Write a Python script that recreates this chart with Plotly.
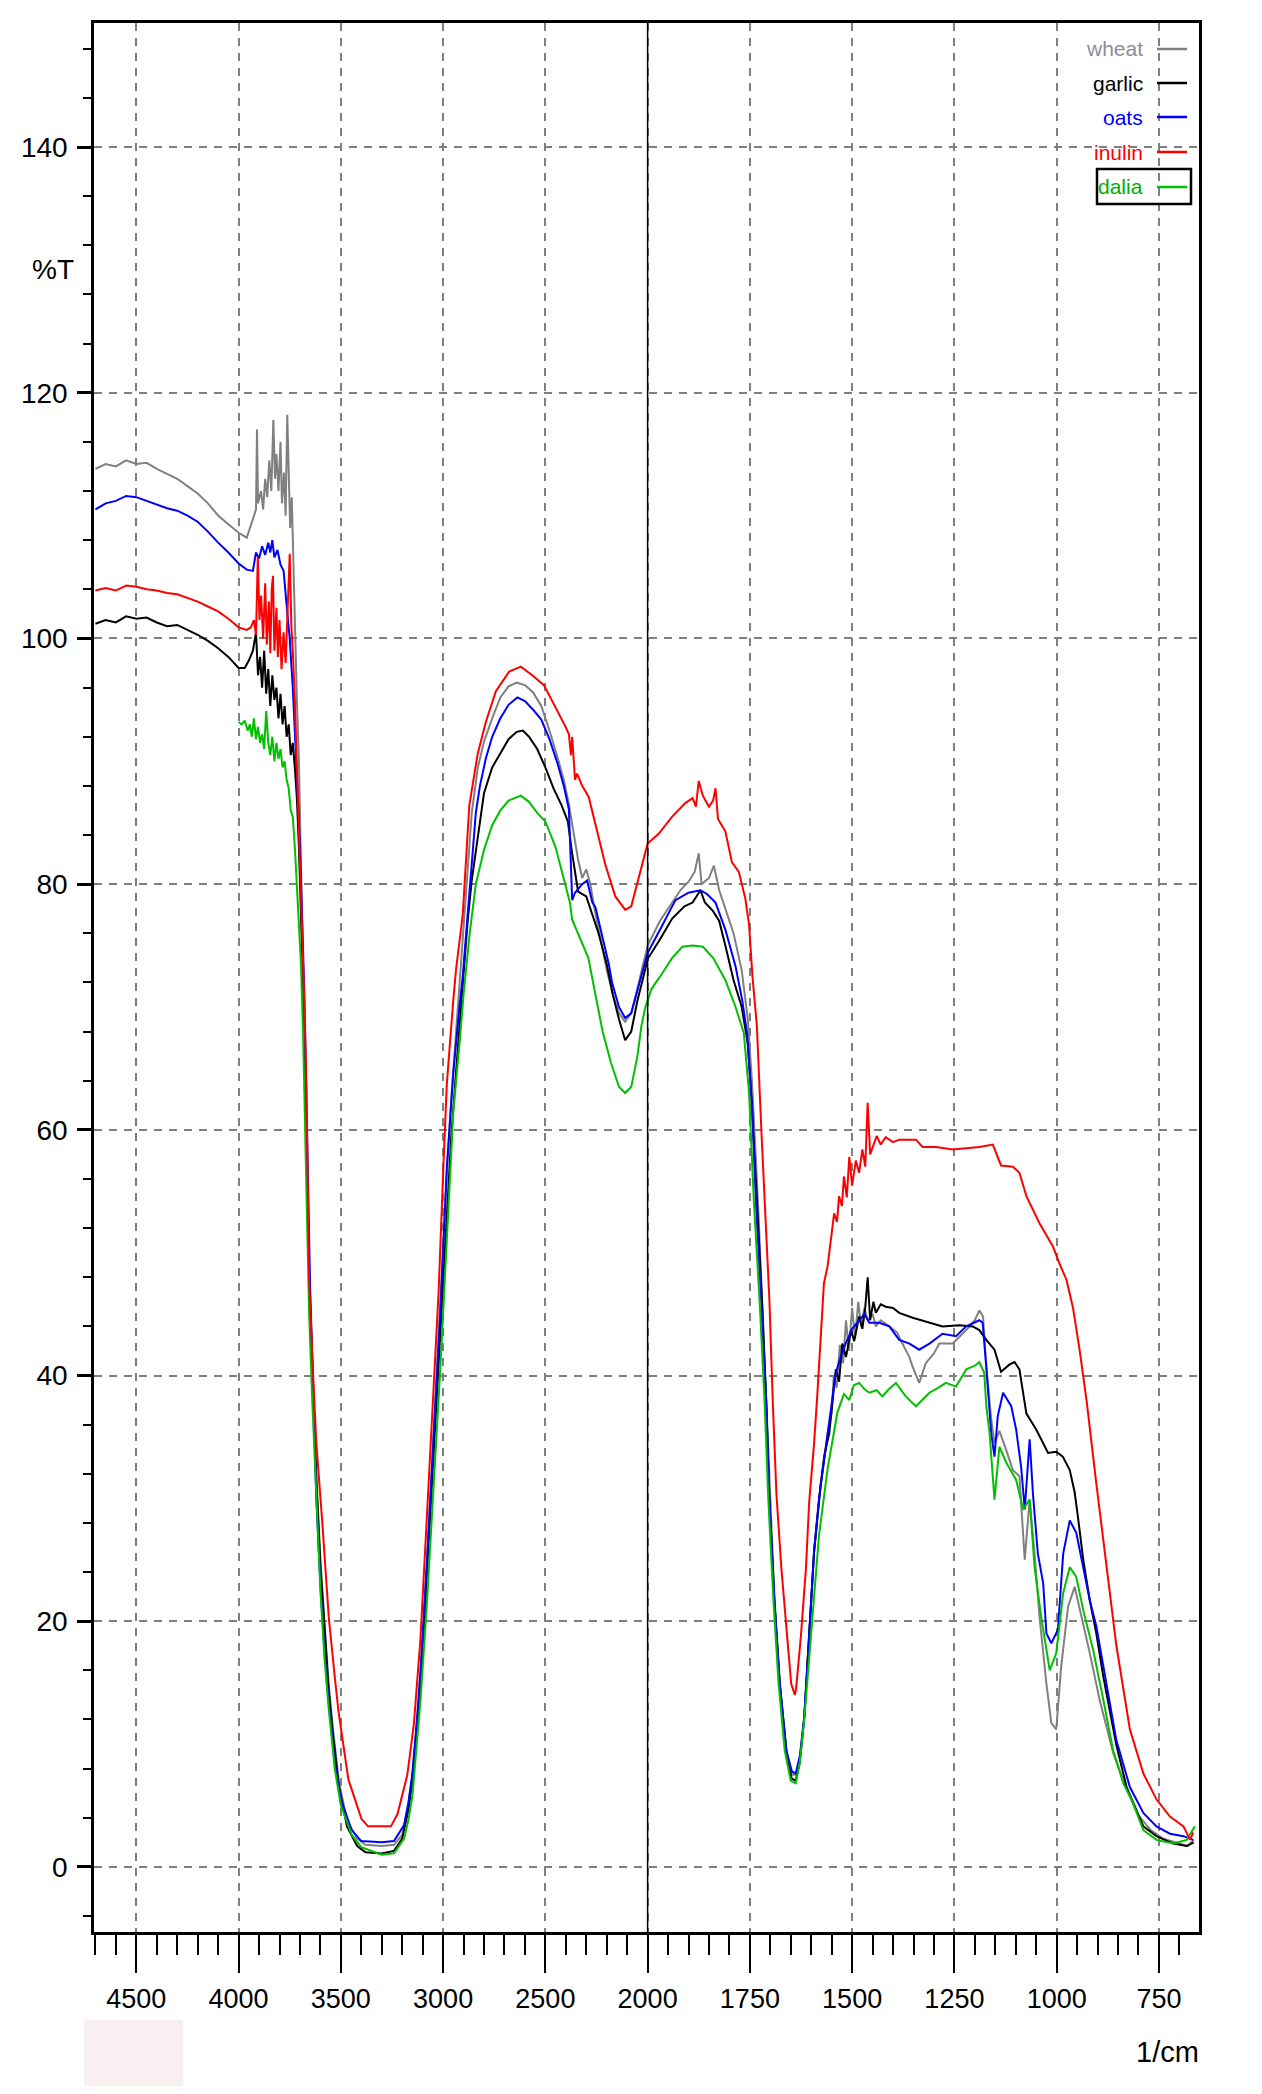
import numpy as np
import plotly.graph_objects as go

# ---------------- data (wavenumber 1/cm, %T) ----------------
wheat_wn = [4700,4650,4600,4550,4500,4450,4400,4350,4300,4250,4200,4150,4100,4050,4000,3960,3935,3915,3910,3905,3890,3880,3870,3860,3850,3840,3830,3822,3815,3805,3795,3788,3778,3770,3762,3755,3748,3740,3732,3725,3715,3705,3695,3685,3675,3665,3655,3640,3620,3600,3580,3560,3540,3510,3470,3420,3380,3300,3240,3200,3170,3150,3120,3100,3080,3060,3040,3020,3000,2980,2960,2940,2920,2900,2880,2860,2830,2800,2760,2720,2680,2640,2600,2560,2520,2480,2440,2410,2385,2360,2340,2320,2300,2280,2260,2230,2200,2170,2140,2110,2080,2050,2020,2000,1970,1940,1920,1900,1885,1875,1868,1850,1838,1825,1810,1790,1770,1755,1745,1730,1720,1710,1700,1690,1677,1660,1645,1635,1625,1617,1605,1593,1577,1560,1550,1545,1538,1530,1522,1515,1508,1500,1493,1485,1478,1470,1462,1450,1442,1430,1409,1390,1377,1360,1352,1336,1320,1300,1287,1254,1221,1200,1189,1180,1172,1160,1152,1140,1123,1107,1091,1078,1066,1054,1042,1025,1013,1001,989,972,956,939,919,895,862,829,800,770,740,700,680,665]
wheat_T = [113.8,114.2,114.0,114.5,114.2,114.3,113.8,113.4,113.0,112.4,111.8,111.0,110.0,109.3,108.6,108.2,109.5,110.5,117.0,111.0,112.0,110.5,113.0,111.5,114.5,112.0,117.8,113.0,115.0,112.0,116.0,111.0,113.5,110.0,118.2,112.0,109.0,111.5,106.0,103.0,95,90,82,73,65,57,48.5,41,32,25,19.5,15,11.5,7.0,3.8,2.3,1.8,1.7,1.8,2.6,5.0,7.5,13.5,18.5,24.5,31,38,44,51,57,62.5,67,71.5,76,80.5,85.8,89.5,91.6,93.5,95.2,96.1,96.4,96.2,95.6,94.5,92.5,90.3,88.5,86.5,84,82,80.5,81.2,80,78,75.5,73,71,69.5,68.8,69.5,71.5,73.5,75.0,77,78.5,79.5,80.2,81,82.5,80,80.5,81.5,79.5,78,76,73,69,64,54,46,38,30,22,15,9.3,7.5,7.5,9.5,12.2,18.9,25.7,31.1,35.3,37,40,39,42.5,41,44.5,42,45.5,43,46,44,45.5,44.5,45,44,44.5,44.0,43.5,42.6,41.5,40.7,39.4,41.0,41.8,42.6,42.6,43.7,44.5,45.3,44.8,40.7,36.5,34.5,35.5,33.9,32.3,31.8,25.0,29.9,25.5,20.4,14.9,11.7,11.2,16.3,21.2,22.8,20.4,17.4,13.6,9.3,6.3,4.2,3.0,2.3,1.9,1.7,2.2]

garlic_wn = [4700,4650,4600,4550,4500,4450,4400,4350,4300,4250,4200,4150,4100,4050,4000,3970,3950,3930,3915,3905,3895,3885,3875,3865,3855,3845,3835,3825,3815,3805,3795,3785,3775,3765,3755,3745,3735,3725,3715,3705,3695,3685,3675,3665,3655,3640,3620,3600,3580,3560,3540,3510,3470,3420,3380,3300,3240,3200,3170,3150,3120,3100,3080,3060,3040,3020,3000,2980,2960,2940,2920,2900,2880,2860,2830,2800,2760,2720,2680,2640,2610,2580,2540,2500,2460,2420,2390,2370,2340,2300,2270,2240,2200,2170,2140,2110,2080,2050,2020,2000,1970,1940,1910,1890,1871,1860,1840,1825,1810,1790,1770,1755,1745,1730,1720,1710,1702,1690,1677,1661,1648,1638,1628,1617,1605,1593,1577,1568,1556,1548,1540,1532,1524,1515,1503,1495,1483,1475,1468,1462,1456,1448,1442,1430,1418,1400,1385,1352,1320,1279,1238,1205,1189,1172,1152,1136,1115,1103,1091,1074,1050,1034,1021,1001,985,968,956,948,935,919,903,886,870,854,829,813,788,756,715,682,665]
garlic_T = [101.2,101.5,101.3,101.8,101.6,101.7,101.3,101.0,101.1,100.7,100.3,99.8,99.2,98.5,97.6,97.6,98.2,99.0,100.5,97.0,98.5,96.0,99.0,95.5,97.5,94.5,97.0,95.0,96.0,93.5,95.5,93.0,94.5,92.0,93.0,90.5,91.5,89.5,87,83,78,72,64.5,56.5,48,40.5,31.5,24.5,19,14.5,11,6.6,3.3,1.7,1.2,1.1,1.3,2.3,4.6,7.0,13,17.5,23.5,29.5,36,42,48.5,54,59.5,64,68.5,72.9,77,80.3,84,87.4,89.5,90.6,91.8,92.4,92.5,92.0,91.0,89.5,87.8,86.4,85.1,82.6,79.4,79.0,77.5,76.0,73.5,71.0,69,67.3,68,70.5,72.5,73.9,75.5,77.2,78.2,78.5,79.5,78.5,77.8,77,75,72.2,70.0,67,62,52,45.9,37.8,29.7,21.6,14.9,9.5,7.2,7.0,8.5,12.2,18.9,25.7,31.1,33.5,35.3,38,40.5,39.5,42.6,41.5,43.7,42.8,44.8,43.8,45.5,48.0,44.5,46,45.1,45.8,45.6,45.5,45.1,44.7,44.4,44.0,44.1,44.0,43.7,42.9,42.1,40.3,40.9,41.1,40.5,36.9,35.6,34.5,33.7,33.8,33.4,32.3,30.5,28.5,25.0,21.7,19.0,15.5,12.8,9.9,6.5,5.2,3.3,2.5,1.9,1.7,2.0]

oats_wn = [4700,4650,4600,4550,4500,4450,4400,4350,4300,4250,4200,4150,4100,4050,4000,3960,3930,3915,3900,3885,3870,3855,3845,3835,3825,3810,3795,3780,3765,3750,3735,3720,3710,3700,3690,3680,3670,3660,3650,3635,3620,3600,3580,3560,3530,3500,3447,3400,3300,3240,3191,3170,3151,3130,3111,3079,3046,3014,2982,2950,2920,2904,2880,2860,2840,2820,2790,2760,2720,2680,2637,2600,2560,2520,2480,2440,2410,2385,2369,2355,2336,2320,2296,2270,2255,2220,2190,2174,2140,2110,2080,2044,2020,2000,1965,1932,1900,1871,1855,1834,1810,1785,1769,1757,1745,1735,1722,1710,1702,1690,1677,1661,1648,1638,1628,1617,1605,1593,1581,1565,1552,1540,1528,1516,1500,1483,1470,1458,1434,1409,1385,1360,1336,1311,1279,1246,1221,1189,1181,1172,1160,1152,1144,1131,1111,1099,1087,1078,1066,1058,1046,1033,1025,1013,997,984,968,952,935,919,903,878,854,821,788,756,723,690,666]
oats_T = [110.5,111.0,111.2,111.6,111.5,111.2,110.9,110.6,110.4,110.0,109.5,108.7,107.8,107.0,106.1,105.6,105.5,107.0,106.5,107.5,106.8,107.8,107.0,108.0,106.6,107.2,106.0,105.5,102.7,100,96,91,87,83,78,72,64,56,47,39,30,23,17.5,13.5,8.5,5.5,3.0,2.1,2.0,2.1,3.4,5.2,7.5,11.5,15.8,24.9,35.0,45.0,56.9,64.7,70.0,72.5,77.5,82,85.8,88,90.3,92.0,93.5,94.6,95.2,94.9,94.2,93.4,91.8,89.8,88,86.1,78.7,79.3,79.7,80.0,80.3,78.5,78.1,75.5,73.5,72.0,70,69.1,69.5,71.7,73.2,74.4,76.6,78.7,79.3,79.5,79.2,78.5,76.3,73.3,70.6,67.9,62,54,45.9,37.8,29.7,21.6,14.9,9.5,7.8,7.6,9,12.2,18.9,25.7,30.0,33.9,37.5,40.2,41.5,42.6,43.8,44.5,45.0,44.3,44.3,44.0,42.9,42.6,42.1,42.6,43.4,43.2,44.0,44.5,44.3,40.7,35.3,33.4,36.7,38.6,37.5,35.6,32.6,29.1,34.8,30.4,25.5,23.1,19.0,18.2,19.3,25.5,28.2,27.2,24.4,21.7,19.6,14.9,10.3,6.5,4.4,3.3,2.7,2.5,2.2]

inulin_wn = [4700,4650,4600,4550,4500,4450,4400,4350,4300,4250,4200,4150,4100,4050,4000,3960,3940,3925,3915,3906,3898,3890,3880,3870,3862,3852,3845,3838,3832,3825,3815,3808,3800,3790,3780,3770,3760,3750,3742,3735,3725,3715,3705,3695,3685,3679,3670,3655,3639,3620,3591,3559,3530,3511,3463,3399,3367,3300,3255,3223,3175,3143,3111,3079,3054,3022,2998,2982,2950,2937,2904,2872,2831,2791,2742,2677,2620,2564,2507,2450,2401,2385,2375,2369,2355,2345,2320,2288,2255,2207,2158,2109,2080,2061,2030,2012,2000,1973,1940,1908,1890,1882,1875,1865,1850,1840,1834,1828,1810,1794,1777,1761,1752,1744,1733,1722,1710,1702,1694,1685,1673,1661,1649,1640,1637,1625,1613,1605,1593,1585,1575,1569,1560,1552,1544,1537,1532,1525,1520,1513,1507,1500,1491,1483,1475,1468,1462,1456,1450,1440,1430,1418,1400,1385,1344,1328,1295,1254,1221,1189,1156,1136,1107,1091,1074,1042,1009,993,976,960,944,927,903,878,854,821,788,756,723,690,674,666]
inulin_T = [103.9,104.1,103.9,104.3,104.2,104.0,103.9,103.7,103.6,103.3,103.0,102.6,102.2,101.6,100.9,100.7,100.9,101.5,100.3,106.6,101.5,103.5,100.0,104.5,99.5,103.0,98.8,104.0,105.1,99.0,102.5,98.5,101.5,97.5,100.5,98.0,103.0,106.9,101.0,99.0,95.0,90.0,85,79,74.5,70.6,65,47.8,41.4,34.5,28.1,20.3,15.5,12.6,7.1,3.9,3.3,3.3,3.3,4.3,7.5,11.6,18.5,28.6,36.8,46.8,57.3,63.7,70.6,73,77.5,86.4,90.6,93.2,95.7,97.3,97.7,97.0,96.2,94.4,92.8,92.2,90.5,92.0,88.5,89.0,88.0,87.1,84.8,81.6,79.0,77.9,78.2,79.4,81.5,82.6,83.3,84.1,85.5,86.6,87.0,86.3,88.4,87.2,86.3,86.8,87.8,85.3,84.3,81.8,81.0,78.8,76.7,72.6,68.5,60,52,45.9,37.8,30.3,24.3,19.5,14.9,14.0,14.5,18.9,24.3,29.7,34.5,38.5,44,47.5,48.9,51.3,53.2,52.5,54.6,53.8,56.2,54.5,57.8,55.5,57.5,56.5,58.4,57.0,62.2,58.0,58.6,59.5,58.8,59.4,59.0,59.2,59.2,58.6,58.6,58.4,58.5,58.6,58.8,57.1,57.0,56.5,54.6,52.4,50.5,49.1,47.8,45.5,42.1,38.0,31.2,24.4,18.0,11.2,7.6,5.5,4.1,3.3,2.2,2.8]

dalia_wn = [4000,3985,3970,3955,3945,3935,3925,3915,3905,3895,3885,3875,3865,3855,3845,3835,3825,3815,3805,3795,3785,3775,3765,3755,3745,3735,3725,3715,3705,3695,3685,3675,3665,3655,3640,3620,3600,3580,3560,3530,3500,3447,3400,3300,3240,3191,3170,3150,3130,3111,3079,3046,3014,2982,2950,2920,2900,2870,2840,2800,2760,2720,2680,2620,2580,2540,2500,2450,2418,2380,2369,2340,2320,2290,2255,2220,2180,2140,2110,2080,2050,2030,2011,1990,1965,1940,1915,1890,1865,1840,1810,1785,1765,1752,1740,1726,1714,1705,1693,1680,1665,1650,1638,1628,1617,1605,1593,1581,1560,1545,1536,1520,1507,1496,1483,1470,1458,1440,1426,1410,1393,1380,1369,1344,1311,1290,1271,1246,1221,1200,1189,1177,1172,1164,1156,1152,1140,1123,1099,1082,1066,1054,1038,1017,1001,984,968,952,935,911,886,862,837,817,788,756,715,682,662]
dalia_T = [93.2,93.0,93.3,92.5,93.0,92.0,93.5,91.8,92.8,91.5,92.2,91.0,94.1,91.5,90.5,92.0,90.0,91.5,90.2,91.0,89.5,90.0,88.5,87.8,86,85.5,83,80,77.5,73.5,68,61,53,45,38,29.5,22.5,17,13,8,5,2.6,1.6,1.0,1.1,2.3,3.8,5.8,9.5,13.5,21.5,31.0,40.5,51,61.5,67,71,76,80.0,82.8,84.8,86.0,86.8,87.2,86.7,85.8,85.1,83,81.0,78.5,77.1,76,75.2,74,71.0,68,65.5,63.5,63.0,63.5,66,68.5,70.0,71.5,72.7,74.0,74.9,75.0,74.9,74.0,72.2,70.0,67.9,63,54,45.9,37.8,30,22,15,9.5,7,6.8,8.5,12,17,21.6,27.0,32.4,35.3,37.0,38.5,38.0,39.2,39.4,38.9,38.6,38.8,38.3,38.9,39.4,38.8,38.3,37.5,38.6,39.0,39.4,39.1,40.5,40.8,41.1,40.2,37.5,35.3,32.0,29.9,34.2,32.9,31.5,29.1,29.9,24.4,20.4,16.0,17.4,22.3,24.4,23.6,20.9,17.7,13.6,9.5,6.8,5.5,3.0,2.2,1.9,2.2,3.3]

series_names = ["wheat", "garlic", "oats", "inulin", "dalia"]
series_colors = ["#808080", "#000000", "#0000ff", "#ff0000", "#00c000"]
legend_text_colors = ["#8c8c9c", "#000000", "#0000ff", "#ff0000", "#00b000"]
series_wn = [wheat_wn, garlic_wn, oats_wn, inulin_wn, dalia_wn]
series_T = [wheat_T, garlic_T, oats_T, inulin_T, dalia_T]

x_tick_labels = [4500, 4000, 3500, 3000, 2500, 2000, 1750, 1500, 1250, 1000, 750]
y_tick_labels = [0, 20, 40, 60, 80, 100, 120, 140]
x_min, x_max = 652, 4707
y_min, y_max = -5.3, 150.1
split = 2000  # scale changes here (500 per division above, 250 per division below)


def axis_pos(wn):
    wn = np.asarray(wn, dtype=float)
    return np.where(wn > split, split + (wn - split) / 2.0, wn)


FONT = "Liberation Sans, Arial, sans-serif"

fig = go.Figure()
draw_order = [0, 1, 2, 4, 3]
for i in draw_order:
    fig.add_trace(go.Scatter(
        x=axis_pos(series_wn[i]), y=series_T[i], mode="lines",
        name=series_names[i], line=dict(color=series_colors[i], width=2),
        showlegend=False))

W, H = 1262, 2094
OFF = 8  # page body margin
# target plot area on screen: x 94..1199, y 23..1932
ml, mr, mt, mb = 94 - OFF, W + OFF - 1199, 23 - OFF, H + OFF - 1932

fig.update_layout(
    width=W, height=H,
    margin=dict(l=ml, r=mr, t=mt, b=mb),
    paper_bgcolor="white", plot_bgcolor="white",
    font=dict(family=FONT, color="black"),
    showlegend=False,
)

fig.update_xaxes(
    range=[float(axis_pos(x_max)), float(axis_pos(x_min))],
    tickmode="array",
    tickvals=axis_pos(x_tick_labels).tolist(),
    ticktext=[str(v) for v in x_tick_labels],
    ticks="outside", ticklen=38, tickwidth=2, tickcolor="black",
    ticklabelstandoff=3,
    tickfont=dict(size=27, family=FONT, color="black"),
    minor=dict(tickmode="linear", tick0=650, dtick=50, ticks="outside",
               ticklen=20, tickwidth=2, tickcolor="black", showgrid=False),
    showgrid=True, gridcolor="#7f7f7f", gridwidth=2, griddash="8px,7px",
    showline=True, linecolor="black", linewidth=3, mirror=True,
    zeroline=False, automargin=False,
)
fig.update_yaxes(
    range=[y_min, y_max],
    tickmode="array", tickvals=y_tick_labels,
    ticktext=[str(v) for v in y_tick_labels],
    ticks="outside", ticklen=14, tickwidth=3, tickcolor="black",
    ticklabelstandoff=4,
    tickfont=dict(size=28, family=FONT, color="black"),
    minor=dict(tickmode="linear", tick0=0, dtick=4, ticks="outside",
               ticklen=8, tickwidth=2, tickcolor="black", showgrid=False),
    showgrid=True, gridcolor="#7f7f7f", gridwidth=2, griddash="8px,7px",
    showline=True, linecolor="black", linewidth=2.5, mirror=True,
    zeroline=False, automargin=False,
)

# solid vertical line where the scale changes
fig.add_shape(type="line", xref="x", yref="paper",
              x0=float(axis_pos(split)), x1=float(axis_pos(split)), y0=0, y1=1,
              line=dict(color="black", width=1.5))

pw = W - ml - mr
ph = H - mt - mb
def px_x(px):
    return (px - OFF - ml) / pw
def px_y(py):
    return 1 - (py - OFF - mt) / ph

# axis titles
fig.add_annotation(text="%T", xref="paper", yref="y", x=px_x(53), y=130,
                   showarrow=False, xanchor="center", yanchor="middle",
                   font=dict(size=28, family=FONT, color="black"))
fig.add_annotation(text="1/cm", xref="paper", yref="paper", x=px_x(1201), y=px_y(2052),
                   showarrow=False, xanchor="right", yanchor="middle",
                   font=dict(size=29, family=FONT, color="black"))

# legend (text right aligned, sample line to its right)
legend_y = [49, 83, 117, 152, 187]
for name, col, tcol, ly in zip(series_names, series_colors, legend_text_colors, legend_y):
    fig.add_annotation(text=name, xref="paper", yref="paper",
                       x=px_x(1145), y=px_y(ly), xanchor="right", yanchor="middle",
                       showarrow=False, font=dict(size=21, family=FONT, color=tcol))
    fig.add_shape(type="line", xref="paper", yref="paper",
                  x0=px_x(1157), x1=px_x(1187), y0=px_y(ly), y1=px_y(ly),
                  line=dict(color=col, width=2.5))
fig.add_shape(type="rect", xref="paper", yref="paper",
              x0=px_x(1097), x1=px_x(1191), y0=px_y(169), y1=px_y(204),
              line=dict(color="black", width=2.5))

# faint patch in lower left corner of the image
fig.add_shape(type="rect", xref="paper", yref="paper",
              x0=px_x(84), x1=px_x(183), y0=px_y(2020), y1=px_y(2086),
              fillcolor="#f8eff1", line=dict(width=0), layer="below")

fig.write_html("out.html")
